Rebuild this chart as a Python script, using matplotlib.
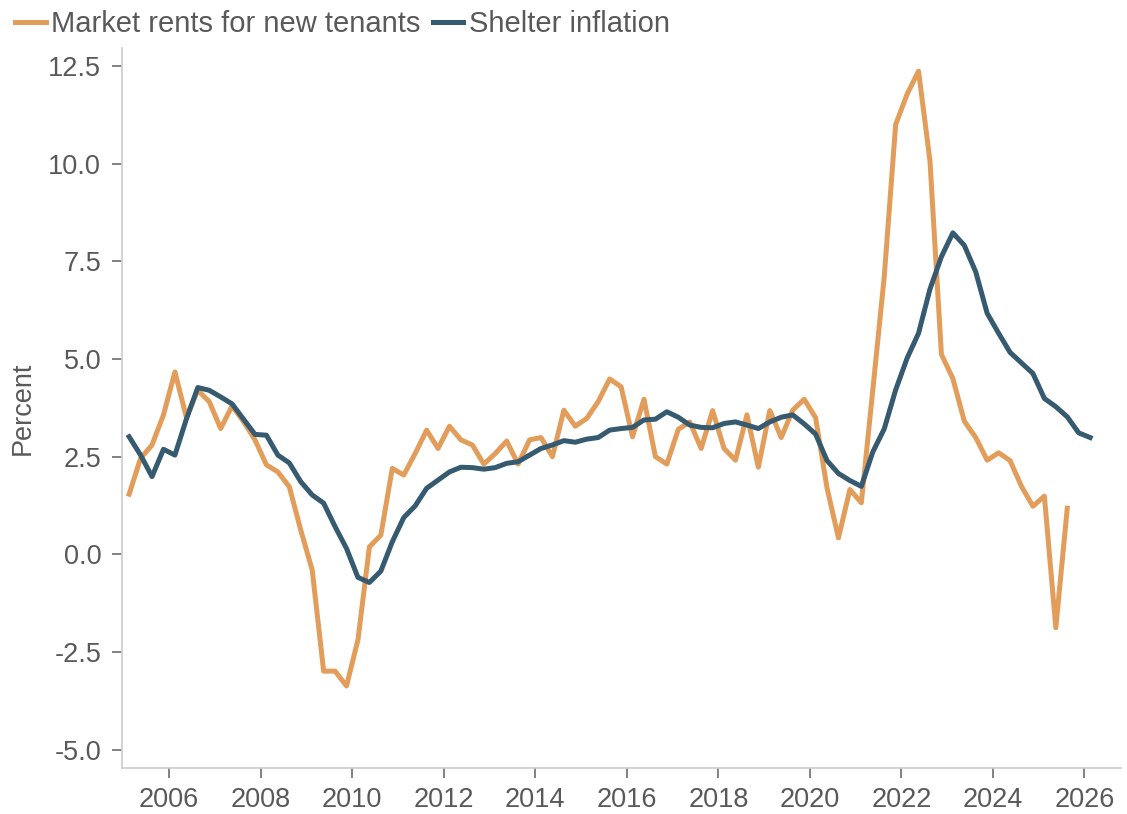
import matplotlib.pyplot as plt
import numpy as np

plt.rcParams['font.family'] = ['Liberation Sans', 'DejaVu Sans']

# quarterly observations, first quarter of 2005 onward
start_year = 2005.125
rents = [1.54, 2.46, 2.80, 3.57, 4.67, 3.51, 4.20, 3.91, 3.22, 3.80,
         3.40, 2.93, 2.29, 2.11, 1.73, 0.62, -0.40, -2.99, -2.99, -3.37,
         -2.19, 0.19, 0.49, 2.20, 2.03, 2.58, 3.18, 2.71, 3.28, 2.93,
         2.80, 2.31, 2.58, 2.90, 2.31, 2.93, 2.99, 2.50, 3.69, 3.28,
         3.48, 3.91, 4.49, 4.29, 3.01, 3.97, 2.50, 2.31, 3.20, 3.39,
         2.71, 3.68, 2.71, 2.41, 3.57, 2.23, 3.68, 2.99, 3.69, 3.97,
         3.50, 1.70, 0.42, 1.66, 1.32, 4.20, 7.10, 11.00, 11.78, 12.37,
         10.07, 5.12, 4.50, 3.41, 2.99, 2.41, 2.60, 2.40, 1.74, 1.23,
         1.49, -1.88, 1.18]
shelter = [3.01, 2.54, 1.99, 2.69, 2.54, 3.46, 4.27, 4.20, 4.03, 3.85,
           3.46, 3.07, 3.05, 2.54, 2.34, 1.86, 1.52, 1.31, 0.71, 0.15,
           -0.59, -0.72, -0.43, 0.32, 0.94, 1.24, 1.69, 1.90, 2.11, 2.23,
           2.22, 2.18, 2.22, 2.33, 2.37, 2.54, 2.71, 2.80, 2.91, 2.87,
           2.95, 2.99, 3.18, 3.22, 3.25, 3.44, 3.46, 3.65, 3.51, 3.31,
           3.25, 3.24, 3.35, 3.39, 3.31, 3.22, 3.39, 3.51, 3.57, 3.34,
           3.08, 2.40, 2.07, 1.89, 1.74, 2.62, 3.21, 4.21, 5.02, 5.66,
           6.79, 7.62, 8.23, 7.91, 7.23, 6.17, 5.66, 5.17, 4.90, 4.63,
           3.99, 3.78, 3.52, 3.11, 2.99]
year_ticks = list(range(2006, 2027, 2))
y_ticks = [-5.0, -2.5, 0.0, 2.5, 5.0, 7.5, 10.0, 12.5]

x_rents = start_year + 0.25 * np.arange(len(rents))
x_shelter = start_year + 0.25 * np.arange(len(shelter))

text_col = '#595959'
fig = plt.figure(figsize=(11.27, 8.14), dpi=100)
ax = fig.add_axes([0.1083, 0.0565, 0.8864, 0.8849])

ax.plot(x_rents, rents, color='#E39D5B', lw=3.6, label='Market rents for new tenants')
ax.plot(x_shelter, shelter, color='#365A6F', lw=3.6, label='Shelter inflation')

ax.set_xlim(2004.97, 2026.8)
ax.set_ylim(-5.47, 12.97)
ax.set_xticks(year_ticks)
ax.set_yticks(y_ticks)
ax.set_yticklabels(['%.1f' % v for v in y_ticks])

for s in ['top', 'right']:
    ax.spines[s].set_visible(False)
for s in ['left', 'bottom']:
    ax.spines[s].set_color('#cccccc')
    ax.spines[s].set_linewidth(1.2)
ax.tick_params(labelsize=19.5, colors='#777777', labelcolor=text_col,
               length=7, width=1.3)
ax.tick_params(axis='y', pad=8)
ax.tick_params(axis='x', pad=7)
ax.set_ylabel('Percent', fontsize=19.5, color=text_col, labelpad=9)

fig.legend(loc='upper left', bbox_to_anchor=(0.0135, 0.988), ncol=2, frameon=False,
           fontsize=21, labelcolor=text_col, handlelength=1.05,
           handletextpad=0.18, columnspacing=0.42, borderpad=0, borderaxespad=0)

plt.savefig('out.png', dpi=100)
